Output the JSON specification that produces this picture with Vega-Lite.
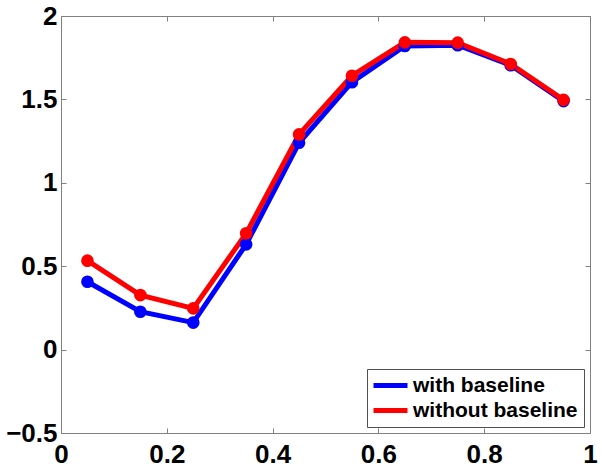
{
  "$schema": "https://vega.github.io/schema/vega-lite/v6.json",
  "width": 529,
  "height": 417,
  "autosize": {"type": "none"},
  "padding": {"left": 61, "top": 16, "right": 12, "bottom": 41},
  "background": "white",
  "config": {
    "view": {"stroke": "#808080", "strokeWidth": 1},
    "font": "Liberation Sans",
    "axis": {
      "domain": false,
      "ticks": true,
      "tickColor": "#808080",
      "tickWidth": 1,
      "tickSize": 5,
      "offset": -5,
      "grid": false,
      "labelFont": "Liberation Sans",
      "labelFontWeight": "bold",
      "labelFontSize": 26,
      "labelColor": "black",
      "title": null
    }
  },
  "data": {
    "values": [
      {"x": 0.05, "y": 0.407, "series": "with baseline"},
      {"x": 0.15, "y": 0.227, "series": "with baseline"},
      {"x": 0.25, "y": 0.162, "series": "with baseline"},
      {"x": 0.35, "y": 0.631, "series": "with baseline"},
      {"x": 0.45, "y": 1.24, "series": "with baseline"},
      {"x": 0.55, "y": 1.603, "series": "with baseline"},
      {"x": 0.65, "y": 1.82, "series": "with baseline"},
      {"x": 0.75, "y": 1.825, "series": "with baseline"},
      {"x": 0.85, "y": 1.705, "series": "with baseline"},
      {"x": 0.95, "y": 1.49, "series": "with baseline"},
      {"x": 0.05, "y": 0.533, "series": "without baseline"},
      {"x": 0.15, "y": 0.327, "series": "without baseline"},
      {"x": 0.25, "y": 0.247, "series": "without baseline"},
      {"x": 0.35, "y": 0.697, "series": "without baseline"},
      {"x": 0.45, "y": 1.29, "series": "without baseline"},
      {"x": 0.55, "y": 1.642, "series": "without baseline"},
      {"x": 0.65, "y": 1.842, "series": "without baseline"},
      {"x": 0.75, "y": 1.84, "series": "without baseline"},
      {"x": 0.85, "y": 1.712, "series": "without baseline"},
      {"x": 0.95, "y": 1.497, "series": "without baseline"}
    ]
  },
  "layer": [
    {
      "mark": {"type": "line", "strokeWidth": 5, "point": {"filled": true, "size": 160, "opacity": 1}},
      "encoding": {
        "x": {"field": "x", "type": "quantitative", "scale": {"domain": [0, 1], "nice": false, "zero": false},
              "axis": {"values": [0, 0.2, 0.4, 0.6, 0.8, 1], "labelPadding": 8, "format": "~g", "labelFlush": false, "labelOverlap": false}},
        "y": {"field": "y", "type": "quantitative", "scale": {"domain": [-0.5, 2], "nice": false, "zero": false},
              "axis": {"values": [-0.5, 0, 0.5, 1, 1.5, 2], "labelPadding": 4, "format": "~g", "labelFlush": false, "labelOverlap": false}},
        "color": {"field": "series", "type": "nominal",
                  "scale": {"domain": ["with baseline", "without baseline"], "range": ["#0000ff", "#ff0000"]},
                  "legend": {"title": null, "orient": "none", "legendX": 306, "legendY": 353,
                             "symbolType": "M-3.4,0H3.4", "symbolStrokeWidth": 5, "symbolSize": 100,
                             "symbolOffset": 7,
                             "labelFontSize": 21, "labelFontWeight": "bold", "labelColor": "black", "labelFont": "Liberation Sans",
                             "labelLimit": 300,
                             "fillColor": "white", "strokeColor": "#505050", "padding": 6, "rowPadding": 3,
                             "labelOffset": 12}}
      }
    },
    {
      "mark": {"type": "point", "opacity": 0},
      "encoding": {
        "x": {"field": "x", "type": "quantitative",
              "axis": {"orient": "top", "values": [0, 0.2, 0.4, 0.6, 0.8, 1], "labels": false}},
        "y": {"field": "y", "type": "quantitative",
              "axis": {"orient": "right", "values": [-0.5, 0, 0.5, 1, 1.5, 2], "labels": false}}
      }
    }
  ],
  "resolve": {"axis": {"x": "independent", "y": "independent"}}
}
